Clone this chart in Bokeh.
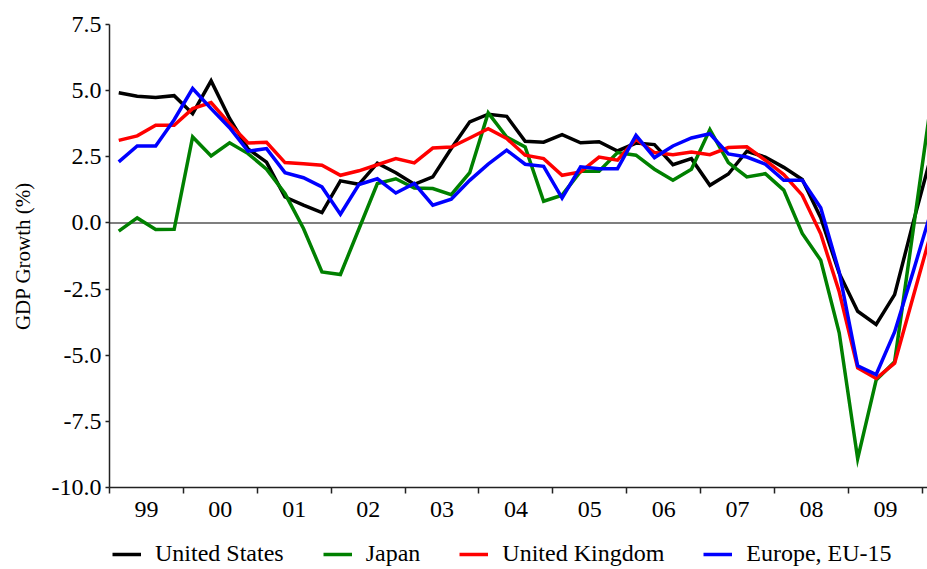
from bokeh.plotting import figure
from bokeh.layouts import column
from bokeh.models import (Range1d, FixedTicker, NumeralTickFormatter, Span,
                          Legend, LegendItem, ColumnDataSource)
from bokeh.embed import file_html
from bokeh.resources import INLINE

# ---------------- data ----------------
periods = [
    "1999Q1", "1999Q2", "1999Q3", "1999Q4",
    "2000Q1", "2000Q2", "2000Q3", "2000Q4",
    "2001Q1", "2001Q2", "2001Q3", "2001Q4",
    "2002Q1", "2002Q2", "2002Q3", "2002Q4",
    "2003Q1", "2003Q2", "2003Q3", "2003Q4",
    "2004Q1", "2004Q2", "2004Q3", "2004Q4",
    "2005Q1", "2005Q2", "2005Q3", "2005Q4",
    "2006Q1", "2006Q2", "2006Q3", "2006Q4",
    "2007Q1", "2007Q2", "2007Q3", "2007Q4",
    "2008Q1", "2008Q2", "2008Q3", "2008Q4",
    "2009Q1", "2009Q2", "2009Q3", "2009Q4",
    "2010Q1",
]

united_states = [
    4.92, 4.79, 4.74, 4.81, 4.13, 5.37, 3.95, 2.80, 2.30, 0.98, 0.67, 0.39,
    1.59, 1.46, 2.26, 1.90, 1.46, 1.74, 2.81, 3.82, 4.11, 4.03, 3.09, 3.05,
    3.34, 3.03, 3.07, 2.72, 3.02, 2.96, 2.20, 2.43, 1.42, 1.85, 2.71, 2.49,
    2.10, 1.64, 0.20, -1.90, -3.34, -3.84, -2.71, 0.00, 2.60,
]
japan = [
    -0.31, 0.19, -0.25, -0.24, 3.25, 2.53, 3.03, 2.62, 2.03, 1.11, -0.21, -1.85,
    -1.95, -0.23, 1.49, 1.67, 1.32, 1.30, 1.07, 1.90, 4.16, 3.25, 2.87, 0.82,
    1.05, 1.95, 1.95, 2.66, 2.56, 2.03, 1.61, 2.03, 3.53, 2.28, 1.74, 1.86,
    1.24, -0.40, -1.41, -4.15, -8.91, -5.94, -5.25, -0.30, 4.70,
]
united_kingdom = [
    3.12, 3.29, 3.69, 3.69, 4.32, 4.55, 3.75, 3.02, 3.05, 2.28, 2.24, 2.18,
    1.80, 1.97, 2.20, 2.43, 2.27, 2.83, 2.87, 3.21, 3.56, 3.19, 2.56, 2.43,
    1.80, 1.93, 2.49, 2.37, 3.16, 2.66, 2.58, 2.68, 2.58, 2.85, 2.88, 2.37,
    1.83, 1.05, -0.41, -2.60, -5.48, -5.88, -5.30, -2.80, -0.30,
]
europe_eu15 = [
    2.31, 2.91, 2.91, 3.90, 5.08, 4.32, 3.60, 2.71, 2.81, 1.90, 1.71, 1.36,
    0.33, 1.45, 1.67, 1.13, 1.49, 0.67, 0.90, 1.61, 2.22, 2.75, 2.22, 2.14,
    0.94, 2.12, 2.05, 2.05, 3.31, 2.47, 2.91, 3.21, 3.37, 2.61, 2.49, 2.22,
    1.61, 1.61, 0.57, -1.85, -5.40, -5.73, -4.12, -1.85, 0.50,
]

year_starts = [1999, 2000, 2001, 2002, 2003, 2004, 2005, 2006, 2007, 2008, 2009, 2010]
year_labels = ["99", "00", "01", "02", "03", "04", "05", "06", "07", "08", "09"]
y_ticks = [-10.0, -7.5, -5.0, -2.5, 0.0, 2.5, 5.0, 7.5]

series_names = ["United States", "Japan", "United Kingdom", "Europe, EU-15"]
series_values = [united_states, japan, united_kingdom, europe_eu15]
series_colors = ["#000000", "#008000", "#ff0000", "#0000ff"]

# quarter centres as fractional years
xq = [int(s[:4]) + (int(s[5]) - 0.5) / 4.0 for s in periods]

FONT = "Liberation Serif"
LW = 3.5

p = figure(width=927, height=531, output_backend="svg", toolbar_location=None,
           x_range=Range1d(1999.0, 2010.07), y_range=Range1d(-10.0, 7.5),
           min_border_left=109, min_border_right=0, min_border_top=24,
           min_border_bottom=44)
p.outline_line_color = None
p.xgrid.visible = False
p.ygrid.visible = False
p.background_fill_color = "white"
p.border_fill_color = "white"

zero = Span(location=0, dimension="width", line_color="#7f7f7f", line_width=2,
            level="underlay")
p.add_layout(zero)

for name, vals, col in zip(series_names, series_values, series_colors):
    src = ColumnDataSource(dict(x=xq, y=vals))
    p.line("x", "y", source=src, line_color=col, line_width=LW,
           line_join="miter")

# x axis: labels at mid-year, tick marks at year boundaries
mids = [y + 0.5 for y in year_starts[:-1]]
p.xaxis.ticker = FixedTicker(ticks=mids, minor_ticks=year_starts)
p.xaxis.major_label_overrides = {m: lab for m, lab in zip(mids, year_labels)}
p.xaxis.major_tick_out = 0
p.xaxis.major_tick_in = 0
p.xaxis.minor_tick_out = 6
p.xaxis.minor_tick_in = 0
p.xaxis.minor_tick_line_color = "#222222"
p.xaxis.minor_tick_line_width = 1.5
p.xaxis.major_label_standoff = 8
p.xaxis.major_label_text_font = FONT
p.xaxis.major_label_text_font_size = "24px"
p.xaxis.major_label_text_color = "black"
p.xaxis.axis_line_color = "#222222"
p.xaxis.axis_line_width = 1.5

# y axis
p.yaxis.ticker = FixedTicker(ticks=y_ticks)
p.yaxis.formatter = NumeralTickFormatter(format="0.0")
p.yaxis.major_tick_out = 4
p.yaxis.major_tick_in = 0
p.yaxis.minor_tick_out = 0
p.yaxis.minor_tick_in = 0
p.yaxis.major_tick_line_color = "#222222"
p.yaxis.major_tick_line_width = 1.5
p.yaxis.major_label_standoff = 4
p.yaxis.major_label_text_font = FONT
p.yaxis.major_label_text_font_size = "24px"
p.yaxis.major_label_text_color = "black"
p.yaxis.axis_line_color = "#222222"
p.yaxis.axis_line_width = 1.5
p.yaxis.axis_label = "GDP Growth (%)"
p.yaxis.axis_label_text_font = FONT
p.yaxis.axis_label_text_font_size = "21px"
p.yaxis.axis_label_text_font_style = "normal"
p.yaxis.axis_label_text_color = "black"
p.yaxis.axis_label_standoff = 14

# ---------------- legend strip below the chart ----------------
pl = figure(width=927, height=38, output_backend="svg", toolbar_location=None,
            x_axis_type=None, y_axis_type=None,
            x_range=Range1d(0, 1), y_range=Range1d(0, 1),
            min_border_left=0, min_border_right=0, min_border_top=0,
            min_border_bottom=0)
pl.outline_line_color = None
pl.xgrid.visible = False
pl.ygrid.visible = False
pl.border_fill_color = "white"
pl.background_fill_color = "white"

items = []
for name, col in zip(series_names, series_colors):
    r = pl.line(x=[-5, -4], y=[-5, -4], line_color=col, line_width=LW)
    items.append(LegendItem(label=name, renderers=[r]))

legend = Legend(items=items, orientation="horizontal", location=(3, 2),
                border_line_color=None, background_fill_alpha=0,
                padding=0, margin=0, spacing=39, glyph_width=29,
                glyph_height=22, label_height=22, label_standoff=14,
                label_text_font=FONT, label_text_font_size="24px",
                label_text_color="black")
pl.add_layout(legend, "center")

layout = column(p, pl, spacing=0)
open("out.html", "w").write(file_html(layout, INLINE))
